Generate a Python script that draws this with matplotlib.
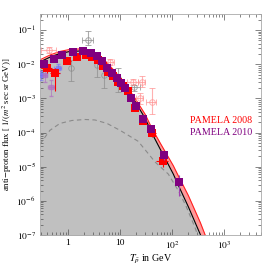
import numpy as np
import matplotlib
matplotlib.use("Agg")
import matplotlib.pyplot as plt
from matplotlib.ticker import LogLocator, FixedLocator, FixedFormatter, NullFormatter

plt.rcParams['font.family'] = ['Liberation Serif', 'DejaVu Serif']
plt.rcParams['mathtext.fontset'] = 'stix'

# background curve (black, upper edge of grey area)
bg_E = [0.29, 0.46, 0.70, 1.09, 1.70, 2.65, 3.78, 5.15, 8.0, 12.5, 19.4, 30.3, 40.0, 58.8, 104.6, 124.7, 203.2, 345.1, 600.0]
bg_F = [1.17e-2, 1.64e-2, 2.07e-2, 2.37e-2, 2.45e-2, 2.14e-2, 1.64e-2, 1.10e-2, 5.26e-3, 2.20e-3, 8.07e-4, 2.59e-4, 1.01e-4, 3.25e-5, 6.10e-6, 3.33e-6, 6.70e-7, 1.03e-7, 1.0e-8]
# upper edge of red band
band_F = [1.35e-2, 1.89e-2, 2.38e-2, 2.73e-2, 2.82e-2, 2.46e-2, 1.89e-2, 1.27e-2, 6.15e-3, 2.60e-3, 1.00e-3, 3.40e-4, 1.40e-4, 4.90e-5, 1.07e-5, 6.20e-6, 1.43e-6, 2.30e-7, 2.6e-8]
# dashed component
dash_E = [0.29, 0.45, 0.70, 1.19, 2.12, 3.30, 5.62, 10.0, 22.2, 47.1, 83.8, 124.7, 180.0, 275.0, 600.0]
dash_F = [4.54e-5, 1.16e-4, 1.85e-4, 2.26e-4, 2.42e-4, 2.34e-4, 1.85e-4, 1.16e-4, 5.55e-5, 1.36e-5, 6.10e-6, 2.23e-6, 7.5e-7, 1.6e-7, 5.0e-9]

# PAMELA 2008
p08_E = [0.40, 0.57, 0.97, 1.5, 2.2, 2.9, 3.7, 4.7, 5.9, 7.3, 9.2, 11.4, 14.2, 19.4, 27.0, 41.0, 66.0]
p08_F = [7.7e-3, 5.5e-3, 1.26e-2, 1.67e-2, 1.87e-2, 1.6e-2, 1.34e-2, 9.0e-3, 6.1e-3, 4.4e-3, 3.1e-3, 2.25e-3, 1.6e-3, 5.4e-4, 2.2e-4, 9.9e-5, 1.5e-5]
p08_lo = [0.30, 0.70, 0.20, 0.15, 0.12, 0.12, 0.12, 0.12, 0.12, 0.12, 0.12, 0.15, 0.15, 0.15, 0.20, 0.25, 0.35]
p08_hi = [0.30, 0.40, 0.20, 0.15, 0.12, 0.12, 0.12, 0.12, 0.12, 0.12, 0.12, 0.15, 0.15, 0.15, 0.20, 0.25, 0.40]
p08_xw = [0.10, 0.12, 0.15, 0.2, 0.3, 0.4, 0.4, 0.5, 0.6, 0.7, 0.9, 1.1, 1.5, 2.5, 4.0, 7.0, 18.0]

# PAMELA 2010
p10_E = [0.35, 0.54, 0.77, 1.25, 1.94, 2.77, 3.61, 4.45, 5.55, 6.9, 8.6, 10.4, 12.5, 15.9, 20.3, 27.3, 39.0, 70.0, 136.0]
p10_F = [1.0e-2, 1.44e-2, 1.87e-2, 2.34e-2, 2.45e-2, 2.1e-2, 1.79e-2, 1.25e-2, 7.7e-3, 5.5e-3, 3.9e-3, 2.8e-3, 2.0e-3, 1.05e-3, 6.2e-4, 2.5e-4, 1.24e-4, 2.2e-5, 3.5e-6]
p10_rel = [0.1, 0.08, 0.06, 0.05, 0.05, 0.05, 0.05, 0.05, 0.05, 0.05, 0.06, 0.06, 0.07, 0.08, 0.1, 0.12, 0.15, 0.3, 0.6]

# other experiments (faint)
gr_E = [2.45, 1.16, 3.6, 5.0, 9.0, 18.8]
gr_F = [5.1e-2, 7.9e-3, 9.6e-3, 4.9e-3, 4.0e-3, 2.1e-3]
gr_lo = [0.28, 0.6, 0.55, 0.6, 0.62, 0.2]
gr_hi = [0.9, 0.7, 0.6, 0.5, 0.95, 0.2]
gr_xw = [0.6, 0.0, 0.0, 0.0, 0.0, 5.0]
pk_E = [40.0, 26.0, 17.8, 24.0, 6.4, 0.44]
pk_F = [7.7e-4, 3.1e-3, 3.1e-3, 1.0e-3, 1.2e-2, 2.6e-2]
pk_lo = [0.55, 0.3, 0.2, 0.3, 0.2, 0.2]
pk_hi = [1.6, 0.5, 0.2, 0.4, 0.2, 0.2]
pk_xw = [9.0, 4.0, 4.0, 4.0, 1.2, 0.14]
bl_E = [0.31, 0.64]
bl_F = [4.9e-3, 7.9e-3]
vi_E = [0.48, 0.36]
vi_F = [2.2e-3, 4.9e-3]
vi_lo = [0.45, 0.4]
vi_hi = [0.6, 0.4]

fig = plt.figure(figsize=(2.66, 2.72), dpi=100)
ax = fig.add_axes([0.150, 0.136, 0.831, 0.813])
ax.set_xscale('log')
ax.set_yscale('log')
ax.set_xlim(0.29, 5000)
ax.set_ylim(1e-7, 0.3)

bgF = np.array(bg_F)
ax.fill_between(bg_E, 1e-9, bgF, color='#c0c0c0', lw=0, zorder=1)
ax.fill_between(bg_E, bgF, band_F, color='#ff9a9a', lw=0, zorder=2)
ax.plot(bg_E, band_F, color='#ff2020', lw=0.8, zorder=2.2)
ax.plot(dash_E, dash_F, color='#8a8a8a', lw=0.8, ls=(0, (4, 3)), zorder=2.1)
ax.plot(bg_E, bg_F, color='black', lw=0.8, zorder=3)

def eb(E, F, lo, hi, xw, **kw):
    E = np.array(E); F = np.array(F)
    yerr = [F * np.array(lo), F * np.array(hi)]
    xerr = None if xw is None else np.array(xw)
    ax.errorbar(E, F, yerr=yerr, xerr=xerr, **kw)

eb(gr_E, gr_F, gr_lo, gr_hi, gr_xw, fmt='o', ms=4, mfc='none', mec='#909090', ecolor='#909090',
   elinewidth=0.8, capsize=2, capthick=0.8, zorder=4, alpha=0.75, mew=0.7)
eb(pk_E, pk_F, pk_lo, pk_hi, pk_xw, fmt='o', ms=4, mfc='none', mec='#ff9090', ecolor='#ff9090',
   elinewidth=0.8, capsize=2, capthick=0.8, zorder=4, alpha=0.7, mew=0.7)
eb(bl_E, bl_F, [0.3, 0.3], [0.3, 0.3], [0.05, 0.1], fmt='s', ms=3, color='#7070ff', ecolor='#7070ff',
   elinewidth=0.7, capsize=1.5, zorder=4, alpha=0.6)
eb(vi_E, vi_F, vi_lo, vi_hi, [0.06, 0.04], fmt='s', ms=3, color='#b070c0', ecolor='#b070c0',
   elinewidth=0.7, capsize=1.5, zorder=4, alpha=0.7)

eb(p08_E, p08_F, p08_lo, p08_hi, p08_xw, fmt='s', ms=5.5, color='#ff0000', ecolor='#ff0000',
   elinewidth=0.8, capsize=2, capthick=0.8, zorder=5, mew=0)
eb(p10_E, p10_F, p10_rel, p10_rel, None, fmt='s', ms=5.5, color='#800080', ecolor='#a040b0',
   elinewidth=0.8, capsize=2, capthick=0.8, zorder=6, mew=0)

ax.text(0.68, 0.52, 'PAMELA 2008', color='#ff0000', fontsize=7.2, va='center', transform=ax.transAxes)
ax.text(0.68, 0.463, 'PAMELA 2010', color='#800080', fontsize=7.2, va='center', transform=ax.transAxes)

ax.xaxis.set_major_locator(FixedLocator([1, 10, 100, 1000]))
ax.xaxis.set_major_formatter(FixedFormatter(['1', '10', '$10^2$', '$10^3$']))
ax.xaxis.set_minor_locator(LogLocator(base=10, subs=np.arange(2, 10), numticks=20))
ax.xaxis.set_minor_formatter(NullFormatter())
yt = [1e-7, 1e-6, 1e-5, 1e-4, 1e-3, 1e-2, 1e-1]
ax.yaxis.set_major_locator(FixedLocator(yt))
ax.yaxis.set_major_formatter(FixedFormatter(['$10^{-7}$', '$10^{-6}$', '$10^{-5}$', '$10^{-4}$', '$10^{-3}$', '$10^{-2}$', '$10^{-1}$']))
ax.yaxis.set_minor_locator(LogLocator(base=10, subs=np.arange(2, 10), numticks=20))
ax.yaxis.set_minor_formatter(NullFormatter())
ax.tick_params(which='both', direction='in', top=True, right=True, labelsize=6.8, width=0.5, colors='#555555', labelcolor='black')
ax.tick_params(which='major', length=4, pad=3)
ax.tick_params(which='minor', length=2)
for s in ax.spines.values():
    s.set_color('#aaaaaa')
    s.set_linewidth(0.6)

ax.set_xlabel(r'$T_{\bar{p}}$ in GeV', fontsize=7.2, labelpad=2)
ax.set_ylabel(r'anti$-$proton flux [ $1/(m^2$ sec sr GeV)]', fontsize=6.3, labelpad=2)

fig.savefig('out.png', dpi=100)
